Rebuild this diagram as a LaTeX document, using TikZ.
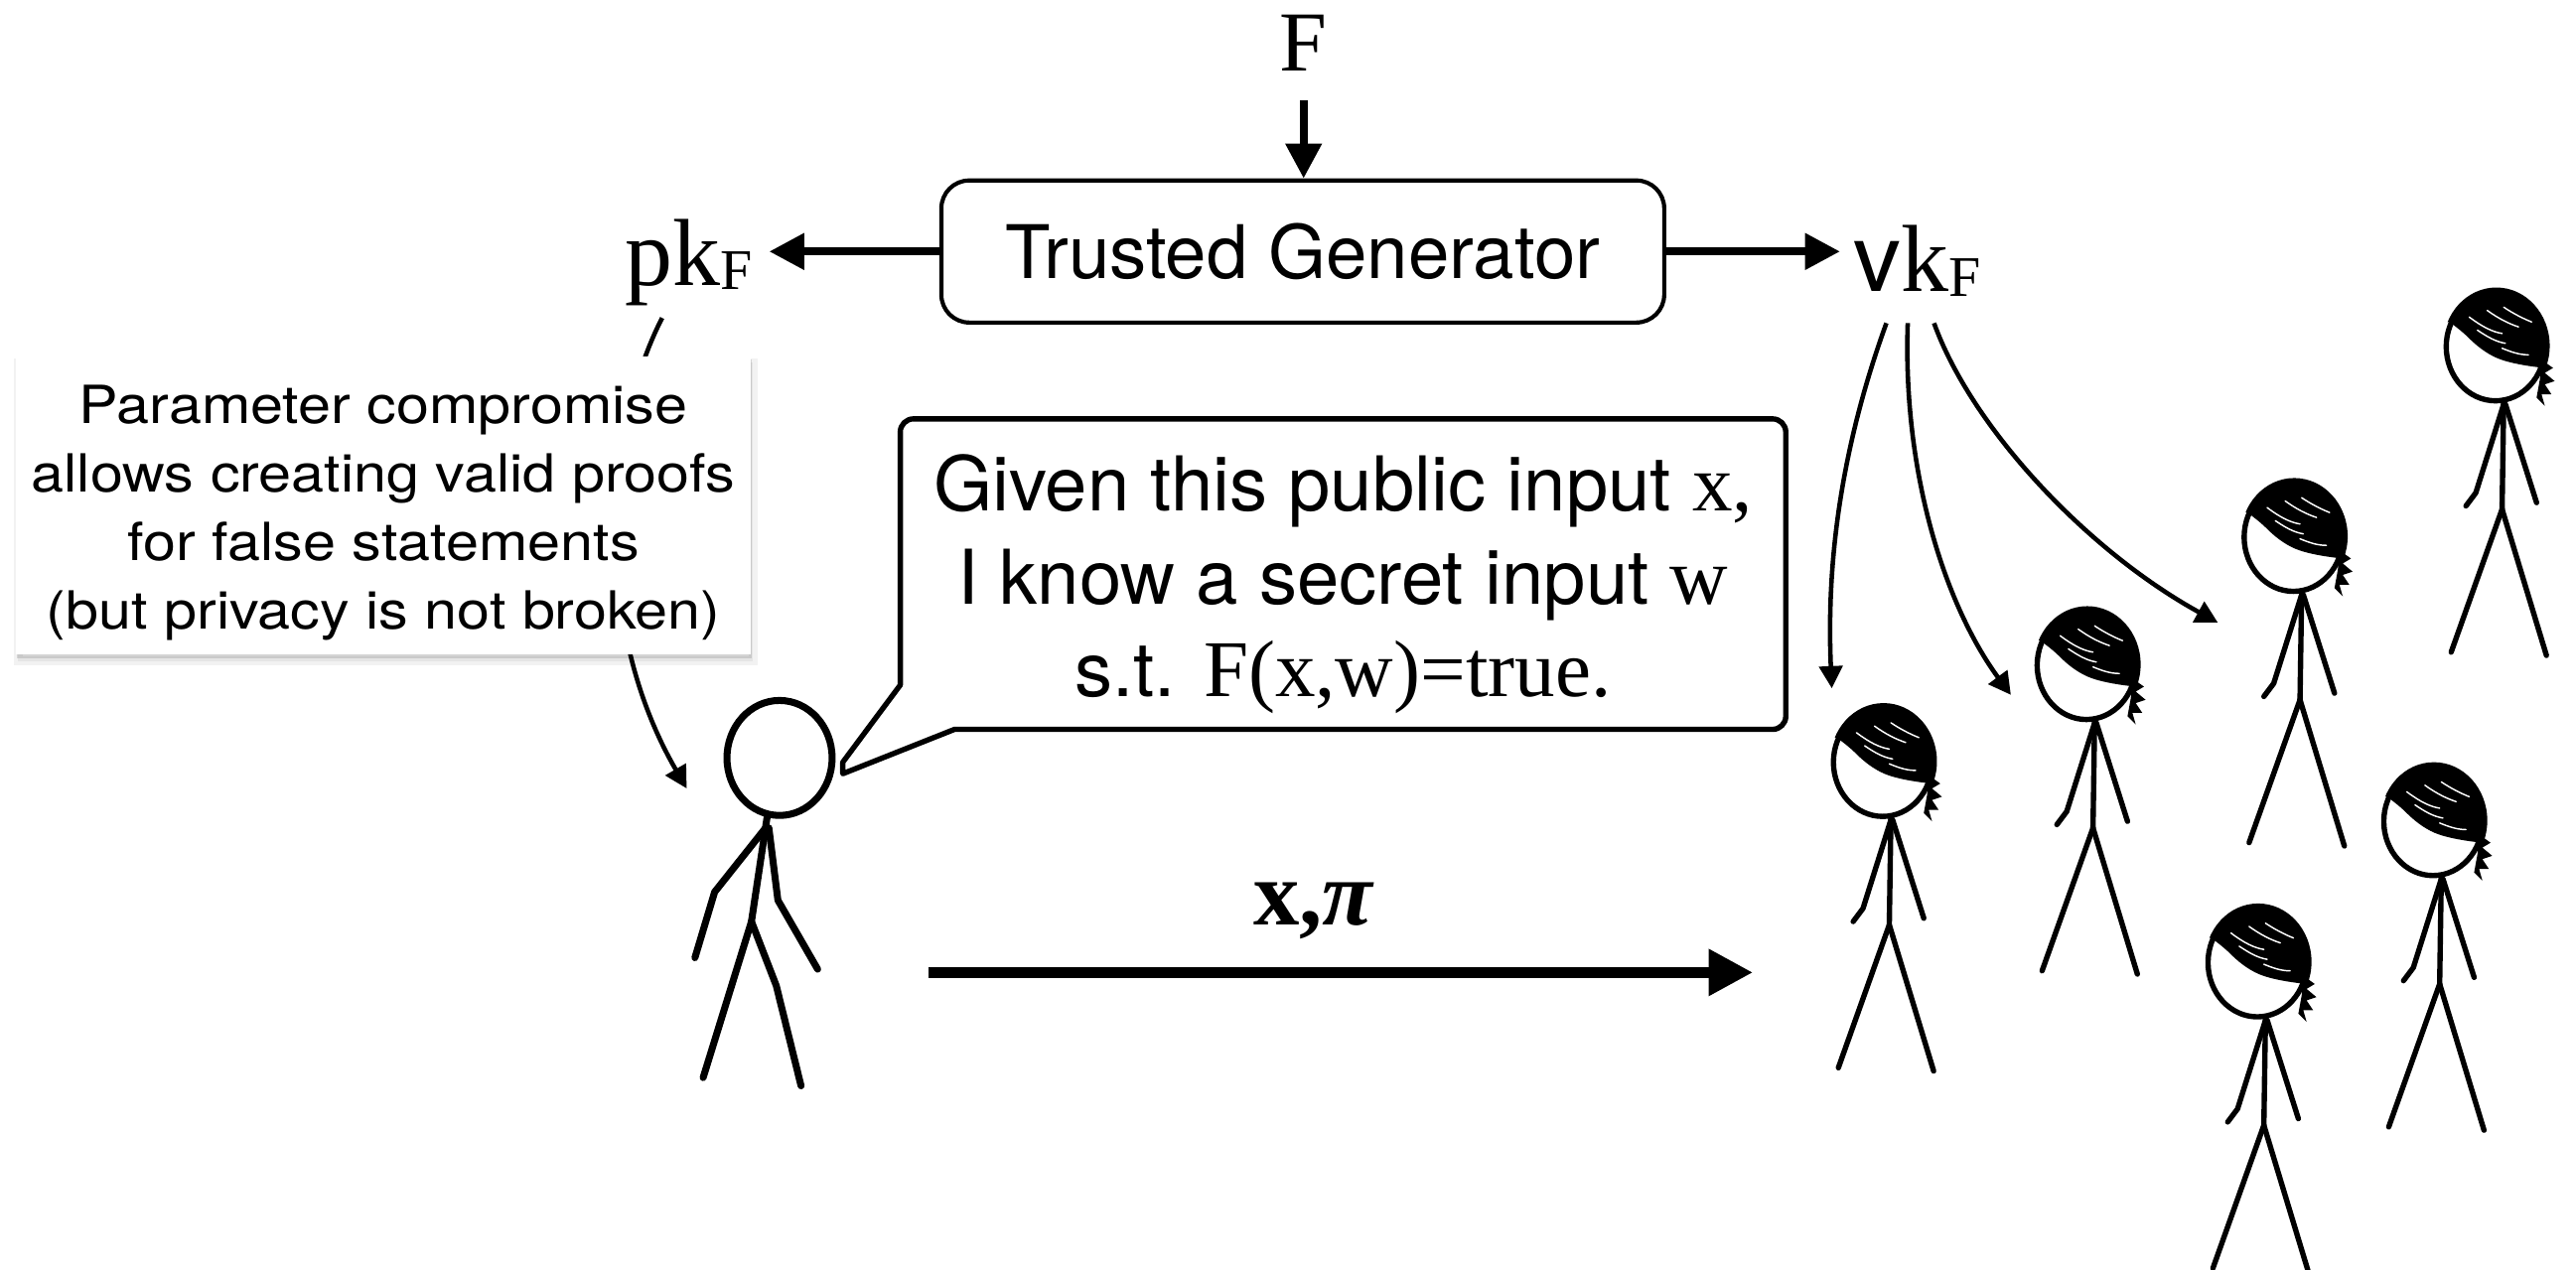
\documentclass[tikz,border=0pt]{standalone}
\usepackage{fontspec}
\setmainfont{Liberation Serif}
\newfontfamily\lsans{TeX Gyre Heros}
\newfontfamily\lsanswide{TeX Gyre Heros}[FakeStretch=1.12]
\usetikzlibrary{arrows.meta,calc}

\tikzset{
  thickarrow/.style={line width=1.85pt, -{Triangle[length=8.5pt,width=8.5pt]}},
  sendarrow/.style={line width=2.6pt, -{Triangle[length=10.8pt,width=10.8pt]}},
  thinarrow/.style={line width=1.1pt, -{Triangle[length=5.4pt,width=5.6pt]}},
  figline/.style={line width=1.3pt, line cap=round, line join=round},
  proverline/.style={line width=1.7pt, line cap=round, line join=round},
  genbox/.style={draw, line width=1pt, rounded corners=6.8pt, fill=white,
    minimum width=176pt, minimum height=34.6pt, inner sep=0pt,
    font=\lsans\fontsize{18pt}{21.6pt}\selectfont},
  keytext/.style={anchor=base west, inner sep=0pt, font=\fontsize{23.2pt}{28pt}\selectfont},
  notebox/.style={fill=white, minimum width=178.9pt, minimum height=72.6pt, inner sep=0pt,
    preaction={fill=black, opacity=0.05, transform canvas={xshift=0.5pt, yshift=-1.6pt},
      draw=black, line width=2.2pt},
    preaction={fill=black, opacity=0.12, transform canvas={xshift=0.3pt, yshift=-0.9pt}}},
  notetext/.style={anchor=base, inner sep=0pt, font=\lsanswide\fontsize{12.8pt}{16.7pt}\selectfont},
  claimtext/.style={anchor=base, inner sep=0pt, font=\fontsize{18.4pt}{22pt}\selectfont},
  serifpart/.style={},
  bubble/.style={line width=1.3pt, line join=round, fill=white},
  verifier/.pic={
    % hair: the top of the head, above the fringe line
    \begin{scope}
      \clip (-45,-50) -- (45,-50) -- (45,14) -- (30,13)
        .. controls (20,12) and (8,10) .. (1,7)
        .. controls (-6,4) and (-12,-1) .. (-16,-5)
        .. controls (-20,-9) and (-24,-12) .. (-28,-15) -- (-45,-15) -- cycle;
      \fill (0.5,-0.5) ellipse [x radius=32.5, y radius=35.5];
    \end{scope}
    % light streaks in the hair
    \draw[white, line width=0.35pt, line cap=round]
      (-16,-18) .. controls (-8,-12) and (-2,-9) .. (4,-8)
      (-5,-22) .. controls (2,-17) and (8,-14) .. (14,-12)
      (5,-24) .. controls (11,-20) and (17,-17) .. (22,-15)
      (-11,-10) .. controls (-5,-6) and (0,-3) .. (6,-2)
      (4,1) .. controls (9,3) and (14,5) .. (20,5);
    % head outline
    \draw[figline] (0,0) ellipse [x radius=30, y radius=33];
    % ragged hair ends on the right side
    \fill[line join=round]
      (28,8) -- (35,13) -- (30,16) -- (36,21) -- (30,23) -- (34,29) -- (28,29) -- (30,36)
      -- (25,31) -- (27,20) -- cycle;
    % body, arms and legs
    \draw[figline] (5,33) -- (4,99);
    \draw[figline] (5,35) -- (-12,89) -- (-18,97);
    \draw[figline] (6,35) -- (25,95);
    \draw[figline] (4,99) -- (-27,186);
    \draw[figline] (4,99) -- (31,188);
  }
}

\newcommand{\sr}[1]{{\fontsize{19.6pt}{22pt}\selectfont #1}}

\begin{document}
\begin{tikzpicture}[x=0.4pt,y=-0.4pt]
\useasboundingbox (0,0) rectangle (1568,773);
\fill[white] (0,0) rectangle (1568,773);

% setup: function, generator and the two keys
\node[anchor=base, inner sep=0pt, font=\fontsize{20.8pt}{25pt}\selectfont] (F) at (793.5,43.5) {F};
\node[genbox] (gen) at (793,153.1) {Trusted Generator};
\node[keytext] (pk) at (379.8,173.7) {pk\raisebox{-1pt}{\fontsize{14pt}{16pt}\selectfont F}};
\node[keytext] (vk) at (1128,177.7) {{\lsans v}k\raisebox{-1pt}{\fontsize{14pt}{16pt}\selectfont F}};

\draw[thickarrow, shorten <=6.8pt] (F.south) -- (F.south |- gen.north);
\draw[thickarrow] (gen.west) -- ($(gen.west -| pk.east)+(10,0)$);
\draw[thickarrow] (gen.east) -- ($(gen.east -| vk.west)+(-8,0)$);

% proving key goes to the prover
\coordinate (proverin) at (418,480);
\draw[thinarrow] ($(pk.south)+(-16,7)$) .. controls (368,262) and (360,380) .. (proverin);

% warning note on top of the connector
\node[notebox] (note) at (233.4,307.6) {};
\node[notetext] (n1) at (233.4,257.6) {Parameter compromise};
\node[notetext] (n2) at (233.4,299.4) {allows creating valid proofs};
\node[notetext] (n3) at (233.4,341.2) {for false statements};
\node[notetext] (n4) at (233.4,383.0) {(but privacy is not broken)};

% verification key goes to the verifiers
\coordinate (vkA) at ($(vk.south)+(-19,16)$);
\coordinate (vkB) at ($(vk.south)+(-6,16)$);
\coordinate (vkC) at ($(vk.south)+(10,16)$);
\coordinate (tipA) at (1115,419);
\coordinate (tipB) at (1224,423);
\coordinate (tipC) at (1350,379);
\draw[thinarrow] (vkA) .. controls (1118,280) and (1112,350) .. (tipA);
\draw[thinarrow] (vkB) .. controls (1158,290) and (1185,370) .. (tipB);
\draw[thinarrow] (vkC) .. controls (1200,260) and (1270,335) .. (tipC);

% speech bubble of the prover
\draw[bubble] (513,464) -- (548,417) -- (548,300) [rounded corners=3.2pt] -- (548,255)
  -- (1087,255) -- (1087,444) -- (600,444) [sharp corners] -- (581,444) -- (513,471) -- cycle;
\node[claimtext] (c1) at (817.5,310.7) {{\lsans Given this public input }\sr{x,}};
\node[claimtext] (c2) at (817.5,367.7) {{\lsans I know a secret input }\sr{w}};
\node[claimtext] (c3) at (817.5,424.1) {{\lsans s.t. }\sr{F(x,w)=true.}};

% prover
\begin{scope}[proverline]
  \draw (474.5,461.4) ellipse [x radius=32, y radius=35];
  \draw (467,497) -- (457.4,561);
  \draw (466,504) -- (435,543) -- (423,583);
  \draw (468,504) -- (473.5,548) -- (497.7,590);
  \draw (457.4,561) -- (428,656);
  \draw (457.4,561) -- (472.5,600) -- (487.6,661);
\end{scope}

% statement and proof sent to the verifiers
\coordinate (sendfrom) at (565,592);
\coordinate (sendto) at (1067,592);
\draw[sendarrow] (sendfrom) -- (sendto);
\node[anchor=base, inner sep=0pt, font=\fontsize{22.4pt}{27pt}\selectfont] (msg) at (800,563) {\bfseries x,\textit{π}};

% crowd of verifiers
\pic at (1146,464) {verifier};
\pic at (1270,405) {verifier};
\pic at (1396,327) {verifier};
\pic at (1519,211) {verifier};
\pic at (1481,500) {verifier};
\pic at (1374,586) {verifier};
\end{tikzpicture}
\end{document}
